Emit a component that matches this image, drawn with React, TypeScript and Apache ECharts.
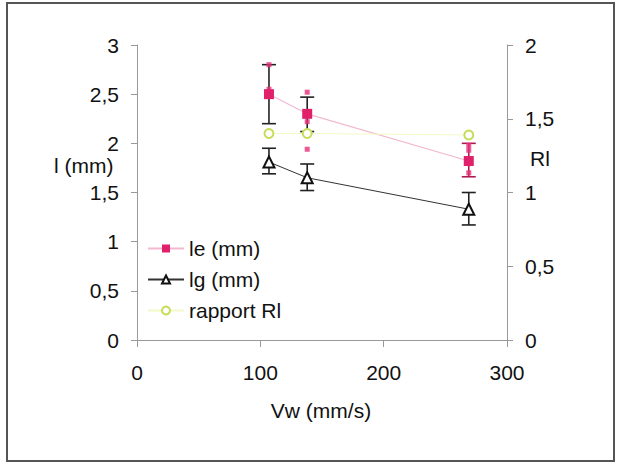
import React, { useEffect, useRef } from "react";
import * as echarts from "echarts";

const vw = [107, 138, 269];
const leValues = [2.5, 2.3, 1.82];
const leLow = [2.2, 2.12, 1.66];
const leHigh = [2.8, 2.47, 2.0];
const lgValues = [1.81, 1.65, 1.33];
const lgLow = [1.69, 1.52, 1.17];
const lgHigh = [1.95, 1.79, 1.5];
const rlValues = [1.4, 1.4, 1.39];
const leSamples: [number, number][] = [
  [107, 2.8], [107, 2.55], [138, 2.52], [138, 1.94], [138, 2.22],
  [269, 1.98], [269, 1.93], [269, 1.7],
];
const xTicks = [0, 100, 200, 300];

const FONT = "Liberation Sans, Arial, sans-serif";
const FS = 21;

export default function App() {
  const ref = useRef<HTMLDivElement>(null);
  useEffect(() => {
    if (!ref.current) return;
    const chart = echarts.init(ref.current, null, { renderer: "svg" });
    const comma = (v: number) => String(v).replace(".", ",");
    const errData = (lo: number[], hi: number[]) => vw.map((x, i) => [x, lo[i], hi[i]]);
    const errSeries = (name: string, lo: number[], hi: number[], colorFn: (i: number) => string) => ({
      type: "custom",
      name,
      xAxisIndex: 0,
      yAxisIndex: 0,
      z: 1,
      silent: true,
      data: errData(lo, hi),
      encode: { x: 0, y: [1, 2] },
      renderItem: (params: any, api: any) => {
        const x = api.value(0);
        const p1 = api.coord([x, api.value(1)]);
        const p2 = api.coord([x, api.value(2)]);
        const w = 7;
        const style = { stroke: colorFn(params.dataIndex), lineWidth: 1.6 };
        return {
          type: "group",
          children: [
            { type: "line", shape: { x1: p1[0], y1: p1[1], x2: p2[0], y2: p2[1] }, style },
            { type: "line", shape: { x1: p1[0] - w, y1: p1[1], x2: p1[0] + w, y2: p1[1] }, style },
            { type: "line", shape: { x1: p2[0] - w, y1: p2[1], x2: p2[0] + w, y2: p2[1] }, style },
          ],
        };
      },
    });
    const axisLine = { show: true, lineStyle: { color: "#999", width: 1 } };
    const axisLabel = { color: "#111", fontSize: FS, fontFamily: FONT };
    chart.setOption({
      animation: false,
      backgroundColor: "#fff",
      textStyle: { fontFamily: FONT },
      grid: { left: 137, right: 111, top: 45, bottom: 125 },
      xAxis: {
        type: "value",
        min: 0,
        max: 300,
        interval: 100,
        axisLine,
        axisTick: { show: true, length: 7, lineStyle: { color: "#999" } },
        splitLine: { show: false },
        axisLabel: { ...axisLabel, margin: 22, customValues: xTicks },
      },
      yAxis: [
        {
          type: "value",
          min: 0,
          max: 3,
          interval: 0.5,
          axisLine,
          axisTick: { show: true, length: 6, lineStyle: { color: "#999" } },
          splitLine: { show: false },
          axisLabel: { ...axisLabel, margin: 18, formatter: comma },
        },
        {
          type: "value",
          min: 0,
          max: 2,
          interval: 0.5,
          position: "right",
          axisLine,
          axisTick: { show: true, length: 6, lineStyle: { color: "#999" } },
          splitLine: { show: false },
          axisLabel: { ...axisLabel, margin: 18, formatter: comma },
        },
      ],
      legend: {
        orient: "vertical",
        left: 142,
        top: 233,
        itemWidth: 36,
        itemHeight: 10,
        itemGap: 10,
        textStyle: { fontSize: FS, color: "#111", fontFamily: FONT },
        data: ["le (mm)", "lg (mm)", "rapport Rl"],
      },
      graphic: [
        {
          type: "rect",
          shape: { x: 7, y: 3, width: 607, height: 458 },
          style: { fill: "none", stroke: "#555", lineWidth: 2 },
          silent: true,
        },
        {
          type: "text",
          x: 54,
          y: 165,
          style: { text: "l (mm)", fontSize: FS, fontFamily: FONT, fill: "#111", textVerticalAlign: "middle" },
        },
        {
          type: "text",
          x: 530,
          y: 158,
          style: { text: "Rl", fontSize: FS, fontFamily: FONT, fill: "#111", textVerticalAlign: "middle" },
        },
        {
          type: "text",
          x: 321,
          y: 410,
          style: { text: "Vw (mm/s)", fontSize: FS, fontFamily: FONT, fill: "#111", textAlign: "center", textVerticalAlign: "middle" },
        },
      ],
      series: [
        errSeries("leErr", leLow, leHigh, (i) => (i === 2 ? "#b01850" : "#222")),
        errSeries("lgErr", lgLow, lgHigh, () => "#222"),
        {
          type: "scatter",
          name: "leSamples",
          data: leSamples,
          symbol: "rect",
          symbolSize: 5,
          itemStyle: { color: "#e8307a" },
          z: 2,
          silent: true,
        },
        {
          type: "line",
          name: "le (mm)",
          data: vw.map((x, i) => [x, leValues[i]]),
          symbol: "rect",
          symbolSize: 10,
          itemStyle: { color: "#e0206a" },
          lineStyle: { color: "#f2b8cf", width: 1.2 },
          z: 3,
        },
        {
          type: "line",
          name: "lg (mm)",
          data: vw.map((x, i) => [x, lgValues[i]]),
          symbol: "emptyTriangle",
          symbolSize: 11,
          itemStyle: { color: "#111", borderWidth: 1.6 },
          lineStyle: { color: "#333", width: 1 },
          z: 3,
        },
        {
          type: "line",
          name: "rapport Rl",
          yAxisIndex: 1,
          data: vw.map((x, i) => [x, rlValues[i]]),
          symbol: "emptyCircle",
          symbolSize: 9,
          itemStyle: { color: "#c6dd5a", borderWidth: 1.6 },
          lineStyle: { color: "#f3f8c8", width: 1.2 },
          z: 3,
        },
      ],
    });
    return () => chart.dispose();
  }, []);
  return <div ref={ref} style={{ position: "fixed", left: 0, top: 0, width: 618, height: 465 }} />;
}
